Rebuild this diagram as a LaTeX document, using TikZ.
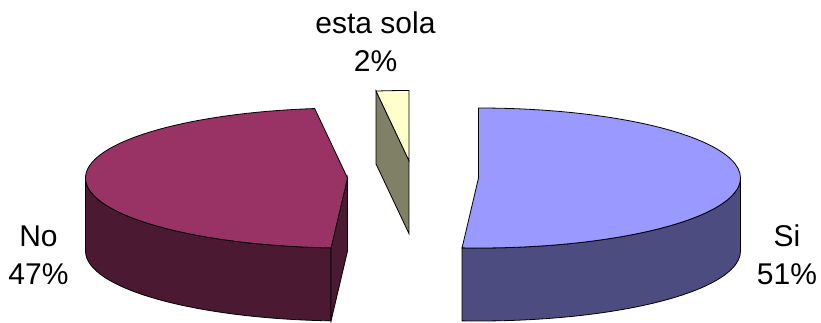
\documentclass[tikz,border=0pt]{standalone}
\usepackage{fontspec}
\setmainfont{Liberation Sans}
\usetikzlibrary{calc}

\definecolor{siTop}{HTML}{9999FF}
\definecolor{siSide}{HTML}{4C4C80}
\definecolor{noTop}{HTML}{993366}
\definecolor{noSide}{HTML}{4C1933}
\definecolor{solaTop}{HTML}{FFFFCC}
\definecolor{solaSide}{HTML}{808066}

\tikzset{rim/.style={x radius=262pt, y radius=70pt}}

\begin{document}
\begin{tikzpicture}[x=1pt,y=1pt,line width=.8pt]

        \useasboundingbox (0,0) rectangle (821,322);

        \coordinate (si)   at (478.5,144);
        \coordinate (no)   at (347.5,144);
        \coordinate (sola) at (408.9,161.5);

        % esta sola
        \filldraw[fill=solaSide] (sola) -- ($(sola)+(97.2:262pt and 70pt)$)
          -- ++(0,-73) -- ($(sola)+(0,-73)$) -- cycle;
        \filldraw[fill=solaTop] (sola) -- ($(sola)+(90:262pt and 70pt)$)
          arc[rim, start angle=90, end angle=97.2] -- cycle;

        % No
        \filldraw[fill=noSide] ($(no)+(180:262pt and 70pt)$)
          arc[rim, start angle=180, end angle=266.4] -- ++(0,-73)
          arc[rim, start angle=266.4, end angle=180] -- cycle;
        \filldraw[fill=noSide] (no) -- ($(no)+(266.4:262pt and 70pt)$)
          -- ++(0,-73) -- ($(no)+(0,-73)$) -- cycle;
        \filldraw[fill=noTop] (no) -- ($(no)+(97.2:262pt and 70pt)$)
          arc[rim, start angle=97.2, end angle=266.4] -- cycle;

        % Si
        \filldraw[fill=siSide] ($(si)+(-93.6:262pt and 70pt)$)
          arc[rim, start angle=-93.6, end angle=0] -- ++(0,-73)
          arc[rim, start angle=0, end angle=-93.6] -- cycle;
        \filldraw[fill=siTop] (si) -- ($(si)+(-93.6:262pt and 70pt)$)
          arc[rim, start angle=-93.6, end angle=90] -- cycle;

        \begin{scope}[every node/.style={align=center, inner sep=0pt,
            font=\fontsize{30}{38}\selectfont}]
          \node (lsola) at (375.5,280) {esta sola\\2\%};
          \node (lno)   at (38.5,67)   {No\\47\%};
          \node (lsi)   at (787,67)    {Si\\51\%};
        \end{scope}

      \end{tikzpicture}
\end{document}
